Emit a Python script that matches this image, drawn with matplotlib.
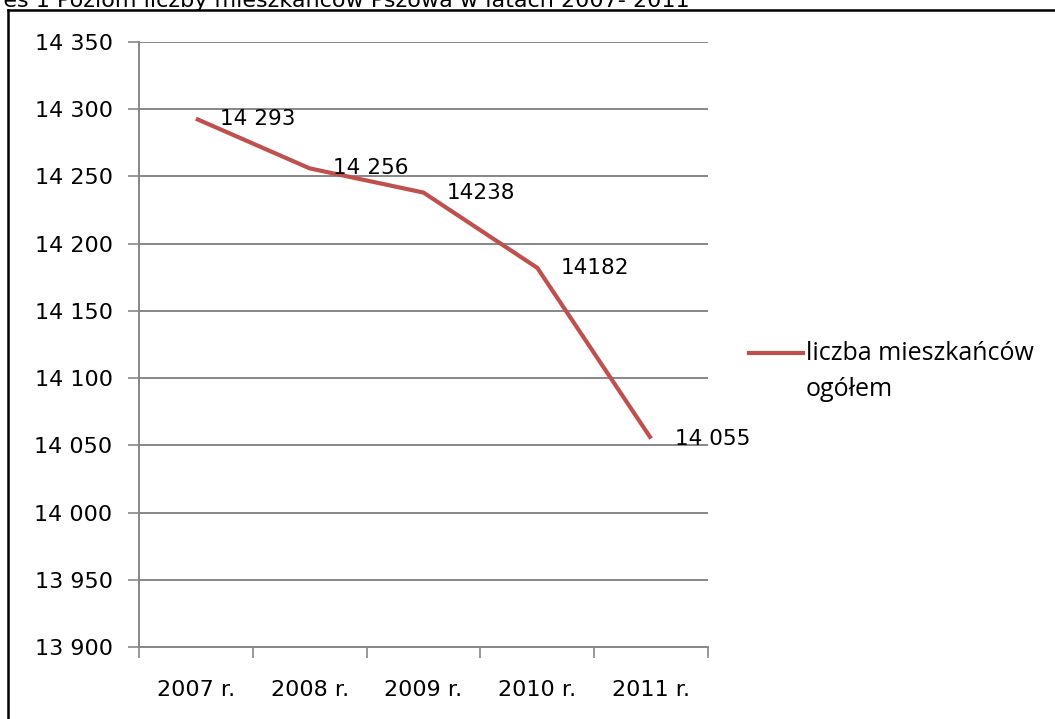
import matplotlib
matplotlib.use("Agg")
import matplotlib.pyplot as plt
from matplotlib.lines import Line2D
from matplotlib.ticker import FixedLocator, FuncFormatter

years = ["2007 r.", "2008 r.", "2009 r.", "2010 r.", "2011 r."]
residents = [14293, 14256, 14238, 14182, 14055]
value_labels = ["14 293", "14 256", "14238", "14182", "14 055"]
y_ticks = [13900, 13950, 14000, 14050, 14100, 14150, 14200, 14250, 14300, 14350]
series_name = ["liczba mieszkańców", "ogółem"]
title = "Wykres 1 Poziom liczby mieszkańców Pszowa w latach 2007- 2011"

W, H = 1055, 719
fig = plt.figure(figsize=(W / 100, H / 100), dpi=100)
fig.patch.set_facecolor("white")

def fx(px):
    return px / W

def fy(py):
    return 1 - py / H

ax = fig.add_axes([fx(139), fy(647), fx(708) - fx(139), fy(42) - fy(647)])

grid_c = "#878787"
line_c = "#C0504D"

x = list(range(len(years)))
ax.plot(x, residents, color=line_c, lw=3.0, solid_capstyle="butt", zorder=3)

for xi, yi, lab in zip(x, residents, value_labels):
    ax.annotate(lab, (xi, yi), xytext=(17, 0), textcoords="offset points",
                ha="left", va="center", fontsize=15.5, color="black",
                family="DejaVu Sans", zorder=4)

ax.set_xlim(-0.5, len(years) - 0.5)
ax.set_ylim(y_ticks[0], y_ticks[-1])

ax.yaxis.set_major_locator(FixedLocator(y_ticks))
ax.yaxis.set_major_formatter(FuncFormatter(lambda v, p: f"{int(v):,}".replace(",", " ")))
ax.grid(axis="y", color=grid_c, lw=1.4, zorder=0)

ax.set_xticks(x)
ax.set_xticklabels(years)
ax.set_xticks([i - 0.5 for i in range(len(years) + 1)], minor=True)
ax.tick_params(axis="x", which="major", length=0, pad=24, labelsize=16,
               labelcolor="black")
ax.tick_params(axis="x", which="minor", length=8, width=1.2, color=grid_c,
               direction="out")
ax.tick_params(axis="y", length=8, width=1.2, color=grid_c, direction="out",
               pad=11, labelsize=16, labelcolor="black")
for lab in ax.get_xticklabels() + ax.get_yticklabels():
    lab.set_family("DejaVu Sans")

for s in ["top", "right"]:
    ax.spines[s].set_visible(False)
for s in ["left", "bottom"]:
    ax.spines[s].set_color(grid_c)
    ax.spines[s].set_linewidth(1.4)

# legend (drawn manually to match layout: handle aligned with first text line)
fig.add_artist(Line2D([fx(749), fx(803)], [fy(353), fy(353)], color=line_c,
                      lw=3.0, transform=fig.transFigure))
for i, line in enumerate(series_name):
    fig.text(fx(806), fy(354 + 36 * i), line, ha="left", va="center",
             fontsize=18, family="Open Sans", transform=fig.transFigure)

# frame border (top and left)
fig.add_artist(Line2D([fx(8), 1.0], [fy(10), fy(10)], color="black", lw=1.8,
                      transform=fig.transFigure))
fig.add_artist(Line2D([fx(8), fx(8)], [fy(10), 0.0], color="black", lw=1.8,
                      transform=fig.transFigure))

# title (cut off at the top edge, as in the reference)
fig.text(fx(690), fy(7), title, ha="right", va="baseline", fontsize=16,
         family="DejaVu Sans", transform=fig.transFigure)

fig.savefig("out.png", dpi=100, facecolor="white")
